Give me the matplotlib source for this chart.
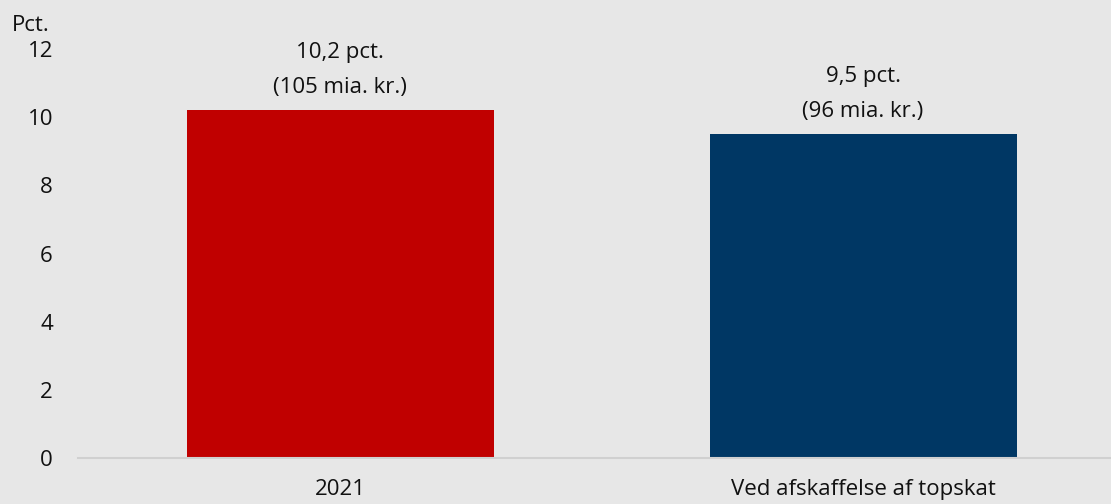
import matplotlib.pyplot as plt

categories = ["2021", "Ved afskaffelse af topskat"]
values = [10.2, 9.5]
billions = [105, 96]
colors = ["#c00000", "#003764"]

plt.rcParams['font.family'] = ['Open Sans', 'DejaVu Sans']
bg = "#e7e7e7"
fs = 16

fig = plt.figure(figsize=(11.11, 5.04), dpi=100, facecolor=bg)
ax = fig.add_axes([0.0702, 0.0913, 0.9298, 0.9087], facecolor=bg)

x = range(len(categories))
bars = ax.bar(x, values, width=0.587, color=colors, zorder=2)

# value labels above each bar
for b, v, kr in zip(bars, values, billions):
    txt = f"{v:.1f}".replace(".", ",") + f" pct.\n({kr} mia. kr.)"
    ax.annotate(txt, (b.get_x() + b.get_width() / 2, v), xytext=(0, 9),
                textcoords="offset points", ha="center", va="bottom",
                fontsize=fs, linespacing=1.85, color="#111111")

ax.set_xlim(-0.501, 1.474)
ax.set_ylim(0, 13.44)
ax.set_yticks(range(0, 13, 2))
ax.set_xticks(list(x))
ax.set_xticklabels(categories)
ax.tick_params(axis="both", length=0, labelsize=fs, colors="#111111")
ax.tick_params(axis="y", pad=18)
ax.tick_params(axis="x", pad=15)

for side in ["top", "right", "left"]:
    ax.spines[side].set_visible(False)
ax.spines["bottom"].set_color("#d0d0d0")
ax.spines["bottom"].set_linewidth(1.5)

fig.text(0.011, 0.95, "Pct.", fontsize=fs, color="#111111", ha="left", va="center")

fig.savefig("out.png", dpi=100, facecolor=bg)
